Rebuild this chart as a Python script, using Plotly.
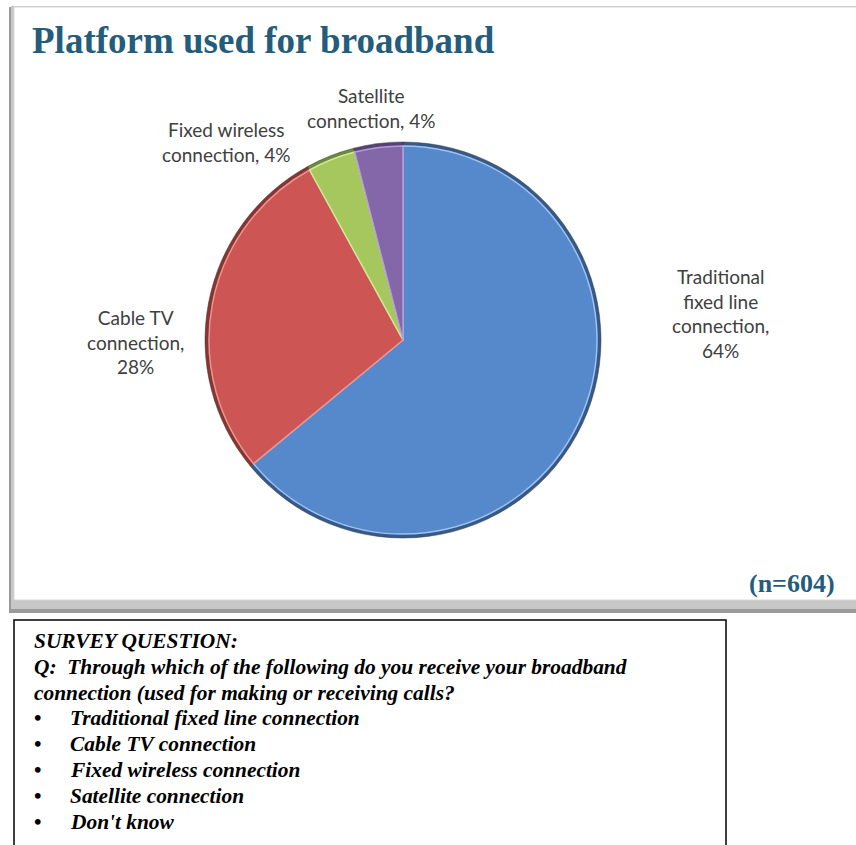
import plotly.graph_objects as go

W, H = 856, 845

# Broadband platform shares (n=604)
platforms = ["Traditional fixed line connection", "Cable TV connection",
             "Fixed wireless connection", "Satellite connection"]
shares = [64, 28, 4, 4]
label_lines = [["Traditional", "fixed line", "connection,"],
               ["Cable TV", "connection,"],
               ["Fixed wireless", "connection,"],
               ["Satellite", "connection,"]]
slice_colors = ["#5689CB", "#CD5553", "#A6C75E", "#8467A8"]
rim_colors = ["#34598A", "#8A3432", "#6D8836", "#56417A"]
edge_colors = ["#9CC3F0", "#E89592", "#D0E89A", "#B49CD6"]

question_lines = ["SURVEY QUESTION:",
                  "Q:  Through which of the following do you receive your broadband",
                  "connection (used for making or receiving calls?"]
answer_options = ["Traditional fixed line connection", "Cable TV connection",
                  "Fixed wireless connection", "Satellite connection", "Don't know"]


def px(x):
    return x / W


def py(y):
    return 1 - y / H


cx, cy, r = 403, 340, 198
rim = 4

fig = go.Figure()
# dark rim underneath
fig.add_trace(go.Pie(
    labels=platforms, values=shares, sort=False, direction="clockwise", rotation=0,
    marker=dict(colors=rim_colors, line=dict(color="#3a3a3a", width=0.5)),
    textinfo="none", hoverinfo="skip", showlegend=False,
    domain=dict(x=[px(cx - r), px(cx + r)], y=[py(cy + r), py(cy - r)]),
))
# main faces
fig.add_trace(go.Pie(
    labels=platforms, values=shares, sort=False, direction="clockwise", rotation=0,
    marker=dict(colors=slice_colors, line=dict(color=edge_colors, width=1.5)),
    textinfo="none", hoverinfo="label+percent", showlegend=False,
    domain=dict(x=[px(cx - r + rim), px(cx + r - rim)], y=[py(cy + r - rim), py(cy - r + rim)]),
))

shapes = []
# chart panel: shadow + white face
shapes.append(dict(type="rect", xref="paper", yref="paper", x0=px(9), x1=px(860), y0=py(613), y1=py(7),
                   fillcolor="#9a9a9a", line=dict(width=0), layer="below"))
shapes.append(dict(type="rect", xref="paper", yref="paper", x0=px(11), x1=px(860), y0=py(609), y1=py(6),
                   fillcolor="#c8c8c8", line=dict(width=0), layer="below"))
shapes.append(dict(type="rect", xref="paper", yref="paper", x0=px(14), x1=px(860), y0=py(600), y1=py(7),
                   fillcolor="white", line=dict(color="#d6d6d6", width=1), layer="below"))
# survey question box
shapes.append(dict(type="rect", xref="paper", yref="paper", x0=px(14), x1=px(726), y0=py(850), y1=py(620),
                   fillcolor="white", line=dict(color="black", width=1.5), layer="below"))

annotations = []
annotations.append(dict(text="<b>Platform used for broadband</b>", x=px(30), y=py(40), xref="paper", yref="paper",
                        xanchor="left", yanchor="middle", showarrow=False,
                        font=dict(family="Liberation Serif", size=37, color="#245C7C")))
annotations.append(dict(text="<b>(n=604)</b>", x=px(837), y=py(583), xref="paper", yref="paper",
                        xanchor="right", yanchor="middle", showarrow=False,
                        font=dict(family="Liberation Serif", size=26, color="#245C7C")))

# slice data labels: name lines + percentage
label_pos = [(720, 313), (135, 342), (226, 142), (371, 108)]
label_font = dict(family="Lato", size=19, color="#404040")
for lines, v, (lx, ly) in zip(label_lines, shares, label_pos):
    if len(lines) >= 3 or lines[0] == "Cable TV":
        txt = "<br>".join(lines) + f"<br>{v}%"
    else:
        txt = lines[0] + "<br>" + lines[1] + f" {v}%"
    annotations.append(dict(text=txt, x=px(lx), y=py(ly), xref="paper", yref="paper",
                            xanchor="center", yanchor="middle", showarrow=False, align="center",
                            font=label_font))

qfont = dict(family="Liberation Serif", size=21.4, color="black")
y0, dy = 641, 25.8
for i, line in enumerate(question_lines):
    annotations.append(dict(text=f"<b><i>{line}</i></b>", x=px(32), y=py(y0 + i * dy), xref="paper", yref="paper",
                            xanchor="left", yanchor="middle", showarrow=False, font=qfont))
for j, opt in enumerate(answer_options):
    yy = y0 + (len(question_lines) + j) * dy
    annotations.append(dict(text="<b>•</b>", x=px(32), y=py(yy), xref="paper", yref="paper",
                            xanchor="left", yanchor="middle", showarrow=False, font=qfont))
    annotations.append(dict(text=f"<b><i>{opt}</i></b>", x=px(68), y=py(yy), xref="paper", yref="paper",
                            xanchor="left", yanchor="middle", showarrow=False, font=qfont))

fig.update_layout(width=W, height=H, margin=dict(l=0, r=0, t=0, b=0),
                  paper_bgcolor="white", plot_bgcolor="white",
                  shapes=shapes, annotations=annotations, showlegend=False)

fig.write_html("out.html", config={"displayModeBar": False})
